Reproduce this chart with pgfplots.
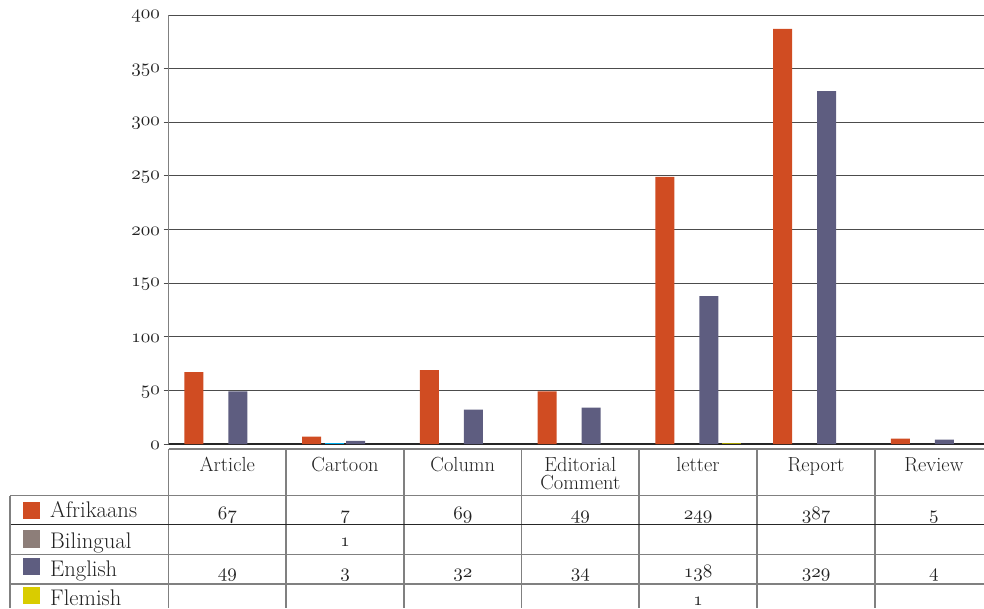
\documentclass[border=0pt]{standalone}
\usepackage{fontspec}
\setmainfont{Latin Modern Roman}
\usepackage{pgfplots}
\pgfplotsset{compat=1.18}
\definecolor{afr}{RGB}{208,76,34}
\definecolor{bil}{RGB}{141,126,121}
\definecolor{bilbar}{RGB}{0,174,239}
\definecolor{eng}{RGB}{94,93,128}
\definecolor{fle}{RGB}{217,204,0}
\definecolor{flebar}{RGB}{168,160,0}
\definecolor{tline}{RGB}{128,128,128}
\definecolor{txt}{RGB}{35,35,35}
\newcommand\osn[1]{{\fontsize{10}{12}\selectfont\scalebox{1.9}{$\mathnormal{#1}$}}}
\begin{document}
\begin{tikzpicture}[font=\fontsize{20.4}{24}\selectfont, text=txt]
\useasboundingbox (0pt,0pt) rectangle (984pt,-608pt);
\begin{axis}[
  at={(168.5pt,-444pt)}, anchor=south west,
  scale only axis, width=815.5pt, height=429pt,
  xmin=-0.5, xmax=6.426, ymin=0, ymax=400,
  axis x line*=bottom, axis y line*=left,
  x axis line style={black!85, line width=1.3pt},
  y axis line style={tline, line width=1.2pt},
  xtick=\empty,
  ytick={0,50,...,350},
  yticklabels={\osn{0},\osn{50},\osn{100},\osn{150},\osn{200},\osn{250},\osn{300},\osn{350}},
  extra y ticks={400},
  extra y tick labels={\osn{400}},
  extra y tick style={major tick length=0pt, yticklabel style={xshift=-5pt}},
  tick label style={text=txt},
  yticklabel style={yshift=-1.5pt},
  tick align=outside, major tick length=5pt,
  ytick style={gray!60!black, line width=0.9pt},
  ymajorgrids, grid style={gray!60!black, line width=0.9pt},
]
\addplot[ybar, draw=none, fill=afr, bar width=0.161, bar shift=-0.285]
  coordinates {(0,67) (1,7) (2,69) (3,49) (4,249) (5,387) (6,5)};
\addplot[ybar, draw=none, fill=bilbar, bar width=0.161, bar shift=-0.09]
  coordinates {(1,1)};
\addplot[ybar, draw=none, fill=eng, bar width=0.161, bar shift=0.09]
  coordinates {(0,49) (1,3) (2,32) (3,34) (4,138) (5,329) (6,4)};
\addplot[ybar, draw=none, fill=flebar, bar width=0.161, bar shift=0.28]
  coordinates {(4,1)};
\end{axis}
\begin{scope}[x=1pt, y=-1pt]
  \draw[tline, line width=1.2pt] (168.5,449) -- (984,449);
  \foreach \x in {168.5,286,404,521.5,639,757,875}
    \draw[tline, line width=1.2pt] (\x,449) -- (\x,608);
  \draw[tline, line width=1.2pt] (10,495.5) -- (984,495.5);
  \draw[black!85, line width=1.2pt] (10,524.3) -- (984,524.3);
  \draw[tline, line width=1.2pt] (10,554.3) -- (984,554.3);
  \draw[tline, line width=1.2pt] (10,584) -- (984,584);
  \draw[tline, line width=1.2pt] (10,495.5) -- (10,608);
  % header
  \foreach \x/\t in {227.25/Article, 345/Cartoon, 462.75/Column, 698/letter, 816/Report, 933.85/Review}
    \node[anchor=base, inner sep=0pt] at (\x,471) {\t};
  \node[anchor=north, inner sep=0pt, align=center] at (580.25,457)
    {Editorial\\[-5.5pt]Comment};
  % legend column
  \fill[afr] (23,502) rectangle (40,519);
  \fill[bil] (23,530) rectangle (40,547.5);
  \fill[eng] (23,558) rectangle (40,575);
  \fill[fle] (23,587) rectangle (40,604);
  \begin{scope}[font=\fontsize{22.6}{26}\selectfont]
  \node[anchor=base west, inner sep=0pt] at (50,517.7) {Afrikaans};
  \node[anchor=base west, inner sep=0pt] at (50,548) {Bilingual};
  \node[anchor=base west, inner sep=0pt] at (50,576.7) {English};
  \node[anchor=base west, inner sep=0pt] at (50,605.5) {Flemish};
  \end{scope}
  % values
  \foreach \x/\v in {227.25/67, 345/7, 462.75/69, 580.25/49, 698/249, 816/387, 933.85/5}
    \node[anchor=base, inner sep=0pt] at (\x,519.5) {\osn{\v}};
  \node[anchor=base, inner sep=0pt] at (345,546) {\osn{1}};
  \foreach \x/\v in {227.25/49, 345/3, 462.75/32, 580.25/34, 698/138, 816/329, 933.85/4}
    \node[anchor=base, inner sep=0pt] at (\x,577) {\osn{\v}};
  \node[anchor=base, inner sep=0pt] at (698,605) {\osn{1}};
\end{scope}
\end{tikzpicture}
\end{document}
